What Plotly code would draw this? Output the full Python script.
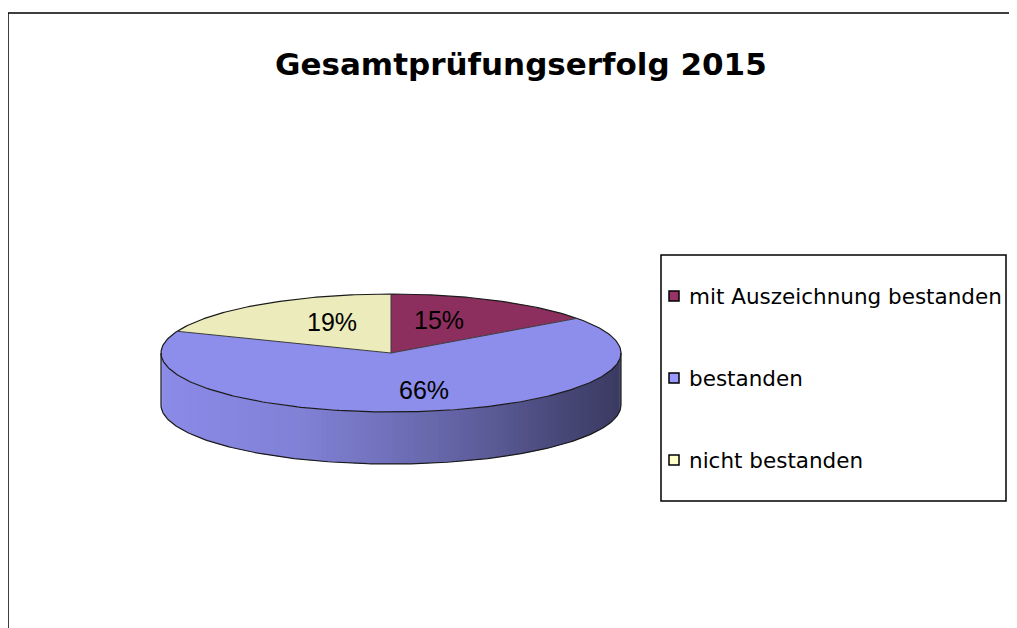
import numpy as np
import plotly.graph_objects as go

# ---- data ----
categories = ["mit Auszeichnung bestanden", "bestanden", "nicht bestanden"]
values = [15, 66, 19]
colors = ["#993366", "#9999FF", "#FFFFCC"]
title_text = "Gesamtprüfungserfolg 2015"

# ---- layout geometry (screen pixels) ----
W, H = 1017, 628
OFF = 8  # default page margin of the html body
cx, cy, a, b, depth = 391, 353, 230, 59, 52


def hex2rgb(h):
    h = h.lstrip("#")
    return tuple(int(h[i:i + 2], 16) for i in (0, 2, 4))


def shade(h, f):
    r, g, bb = hex2rgb(h)
    return "rgb(%d,%d,%d)" % (round(r * f), round(g * f), round(bb * f))


def ell(t_deg, dy=0.0):
    t = np.radians(np.asarray(t_deg, dtype=float))
    return cx + a * np.sin(t), cy - b * np.cos(t) + dy


total = float(sum(values))
cum = np.concatenate([[0.0], np.cumsum(values) / total])
bounds = cum * 360.0

fig = go.Figure()

# ---- side (front half) with horizontal gradient ----
stops_s = [0.0, 0.30, 0.50, 0.69, 0.87, 1.0]
stops_f = [0.91, 0.84, 0.73, 0.61, 0.47, 0.38]
N = 140
ts = np.linspace(90, 270, N + 1)
for i in range(N):
    t0, t1 = ts[i], ts[i + 1]
    tm = 0.5 * (t0 + t1)
    k = int(np.searchsorted(cum, tm / 360.0, side="right") - 1)
    k = min(max(k, 0), len(values) - 1)
    xm = cx + a * np.sin(np.radians(tm))
    s = (xm - (cx - a)) / (2 * a)
    f = float(np.interp(s, stops_s, stops_f))
    tt = np.linspace(max(90, t0 - 0.4), min(270, t1 + 0.4), 5)
    xt, yt = ell(tt)
    xb, yb = ell(tt[::-1], depth)
    fig.add_trace(go.Scatter(
        x=np.concatenate([xt, xb]), y=np.concatenate([yt, yb]),
        fill="toself", fillcolor=shade(colors[k], f),
        mode="lines", line=dict(width=0, color=shade(colors[k], f)),
        hoverinfo="skip", showlegend=False))

# ---- top face slices ----
for k in range(len(values)):
    tt = np.linspace(bounds[k], bounds[k + 1], 200)
    xs, ys = ell(tt)
    fig.add_trace(go.Scatter(
        x=np.concatenate([[cx], xs, [cx]]), y=np.concatenate([[cy], ys, [cy]]),
        fill="toself", fillcolor=shade(colors[k], 0.92),
        mode="lines", line=dict(width=0, color=shade(colors[k], 0.92)),
        hoverinfo="skip", showlegend=False, name=categories[k]))

# ---- outlines ----
tt = np.linspace(0, 360, 400)
xo, yo = ell(tt)
fig.add_trace(go.Scatter(x=xo, y=yo, mode="lines",
                         line=dict(color="#1a1a1a", width=1.2),
                         hoverinfo="skip", showlegend=False))
tt = np.linspace(90, 270, 200)
xbo, ybo = ell(tt, depth)
fig.add_trace(go.Scatter(x=xbo, y=ybo, mode="lines",
                         line=dict(color="#1a1a1a", width=1.2),
                         hoverinfo="skip", showlegend=False))
fig.add_trace(go.Scatter(x=[cx - a, cx - a, None, cx + a, cx + a],
                         y=[cy, cy + depth, None, cy, cy + depth], mode="lines",
                         line=dict(color="#1a1a1a", width=1.2),
                         hoverinfo="skip", showlegend=False))
sx, sy = [], []
for ang in bounds[:-1]:
    px, py = ell([ang])
    sx += [cx, float(px[0]), None]
    sy += [cy, float(py[0]), None]
fig.add_trace(go.Scatter(x=sx, y=sy, mode="lines",
                         line=dict(color="#3a3a3a", width=1),
                         hoverinfo="skip", showlegend=False))

annotations = []
# ---- slice labels ----
fx, fy = 0.46, 0.63
for k, v in enumerate(values):
    mid = 0.5 * (bounds[k] + bounds[k + 1])
    r = np.radians(mid)
    lx = cx + fx * a * np.sin(r)
    ly = cy - fy * b * np.cos(r)
    if abs(np.cos(r)) > 0.95:  # front slice label sits a bit further right
        lx += 20
    annotations.append(dict(x=lx, y=ly, xref="x", yref="y", text=f"{v}%",
                            showarrow=False, xanchor="center", yanchor="middle",
                            font=dict(family="Liberation Sans, Arial", size=25, color="#000000")))

# ---- title ----
annotations.append(dict(x=521, y=64, xref="x", yref="y", text=f"<b>{title_text}</b>",
                        showarrow=False, xanchor="center", yanchor="middle",
                        font=dict(family="DejaVu Sans", size=31, color="#000000")))

shapes = []
# outer border
shapes.append(dict(type="rect", xref="x", yref="y", x0=8, y0=13, x1=1060, y1=680,
                   line=dict(color="#000000", width=1.5), fillcolor="rgba(0,0,0,0)", layer="below"))
# legend box
lx0, ly0, lx1, ly1 = 661, 255, 1006, 501
shapes.append(dict(type="rect", xref="x", yref="y", x0=lx0, y0=ly0, x1=lx1, y1=ly1,
                   line=dict(color="#000000", width=1.5), fillcolor="white", layer="below"))
first_y, step = 296, 82
for k, cat in enumerate(categories):
    yk = first_y + k * step
    shapes.append(dict(type="rect", xref="x", yref="y", x0=669, y0=yk - 5, x1=679, y1=yk + 5,
                       line=dict(color="#000000", width=1.5), fillcolor=colors[k]))
    annotations.append(dict(x=687, y=yk, xref="x", yref="y", text=cat, showarrow=False,
                            xanchor="left", yanchor="middle",
                            font=dict(family="DejaVu Sans", size=21.5, color="#000000")))

fig.update_layout(
    width=W - OFF, height=H - OFF,
    margin=dict(l=0, r=0, t=0, b=0),
    paper_bgcolor="white", plot_bgcolor="white",
    xaxis=dict(range=[OFF, W], visible=False, fixedrange=True),
    yaxis=dict(range=[H, OFF], visible=False, fixedrange=True),
    showlegend=False,
    shapes=shapes,
    annotations=annotations,
)

fig.write_html("out.html")
